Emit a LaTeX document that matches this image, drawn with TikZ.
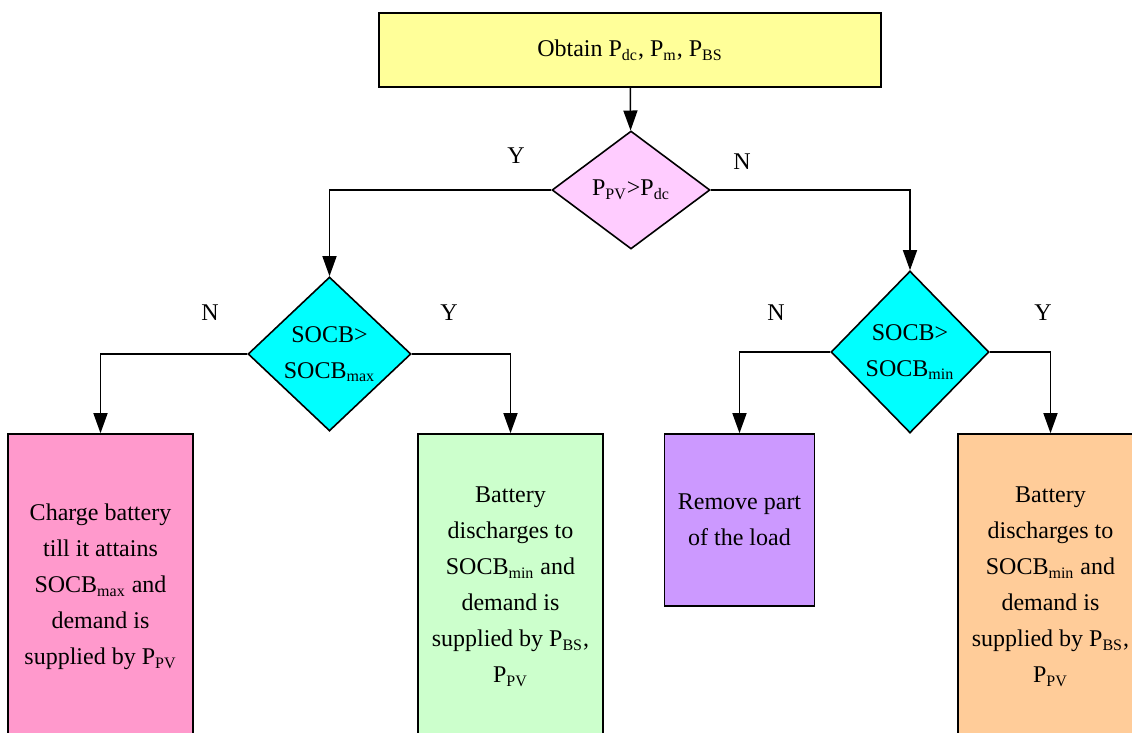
\documentclass[tikz,border=0pt]{standalone}
\usepackage{fontspec}
\setmainfont{Liberation Serif}
\usetikzlibrary{arrows.meta,shapes.geometric}

\begin{document}
\begin{tikzpicture}[x=0.5pt,y=-0.5pt,
  every node/.style={font=\fontsize{12}{18}\selectfont},
  box/.style={draw=black,line width=0.8pt,rectangle,inner sep=0pt,align=center},
  test/.style={draw=black,line width=0.8pt,diamond,inner sep=0pt,align=center},
  flow/.style={-{Triangle[length=10pt,width=7pt]},line width=0.75pt}]
\clip (0,0) rectangle (1132,733);

\node[box,fill={rgb,255:red,255;green,255;blue,153},minimum width=251pt,minimum height=37pt] (start) at (630,50)
  {Obtain P\textsubscript{dc}, P\textsubscript{m}, P\textsubscript{BS}};
\node[test,fill={rgb,255:red,255;green,204;blue,255},minimum width=79pt,minimum height=59pt] (ppv) at (631,190)
  {P\textsubscript{PV}>P\textsubscript{dc}};
\node[test,fill={rgb,255:red,0;green,255;blue,255},minimum width=81.5pt,minimum height=77pt] (socmax) at (329.5,354)
  {SOCB>\\SOCB\textsubscript{max}};
\node[test,fill={rgb,255:red,0;green,255;blue,255},minimum width=79pt,minimum height=81pt] (socmin) at (910,352)
  {SOCB>\\SOCB\textsubscript{min}};

\node[box,fill={rgb,255:red,255;green,153;blue,204},minimum width=92.5pt,minimum height=153pt] (charge) at (100.5,587)
  {Charge battery\\till it attains\\SOCB\textsubscript{max} and\\demand is\\supplied by P\textsubscript{PV}};
\node[box,fill={rgb,255:red,204;green,255;blue,204},minimum width=92.5pt,minimum height=153pt] (dischA) at (510.5,587)
  {Battery\\discharges to\\SOCB\textsubscript{min} and\\demand is\\supplied by P\textsubscript{BS},\\P\textsubscript{PV}};
\node[box,fill={rgb,255:red,204;green,153;blue,255},minimum width=75pt,minimum height=86pt] (remove) at (739.5,520)
  {Remove part\\of the load};
\node[box,fill={rgb,255:red,255;green,204;blue,153},minimum width=92.5pt,minimum height=153pt] (dischB) at (1050.5,587)
  {Battery\\discharges to\\SOCB\textsubscript{min} and\\demand is\\supplied by P\textsubscript{BS},\\P\textsubscript{PV}};

\draw[flow] (start) -- (ppv);
\draw[flow] (ppv.west) -| (socmax.north);
\draw[flow] (ppv.east) -| (socmin.north);
\draw[flow] (socmax.west) -| (charge.north);
\draw[flow] (socmax.east) -| (dischA.north);
\draw[flow] (socmin.west) -| (remove.north);
\draw[flow] (socmin.east) -| (dischB.north);

% branch labels
\foreach \n/\t/\x/\y in {yA/Y/516/156, nA/N/742/162, nB/N/210/313, yB/Y/449/313, nC/N/776/313, yC/Y/1043/313}
  \node (\n) at (\x,\y) {\t};
\end{tikzpicture}
\end{document}
